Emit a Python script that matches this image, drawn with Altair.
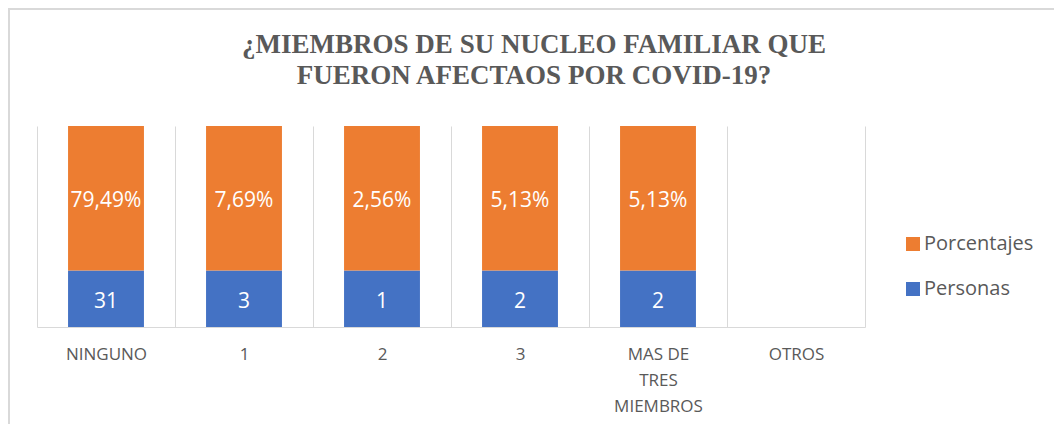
import altair as alt
import pandas as pd

categorias = ["NINGUNO", "1", "2", "3", "MAS DE TRES MIEMBROS", "OTROS"]
personas = [31, 3, 1, 2, 2, 0]
porcentajes = [79.49, 7.69, 2.56, 5.13, 5.13, 0]
series = ["Porcentajes", "Personas"]
colores = ["#ED7D31", "#4472C4"]
titulo = ["¿MIEMBROS DE SU NUCLEO FAMILIAR QUE", "FUERON AFECTAOS POR COVID-19?"]

rows = []
for c, p, q in zip(categorias, personas, porcentajes):
    rows.append({"cat": c, "serie": "Personas", "valor": p, "orden": 0,
                 "etiqueta": f"{p}"})
    rows.append({"cat": c, "serie": "Porcentajes", "valor": q, "orden": 1,
                 "etiqueta": f"{q:.2f}".replace(".", ",") + "%"})
df = pd.DataFrame(rows)

GRAY = "#D9D9D9"
TXT = "#595959"
W, H = 828, 201
PL, PT = 29, 118
TOTW, TOTH = 1046, 416

x_axis = alt.Axis(
    title=None, labelAngle=0, ticks=False, grid=True, tickBand="extent",
    gridColor=GRAY, gridWidth=1, domainColor=GRAY, domainWidth=1,
    labelFont="Open Sans", labelFontSize=17, labelColor=TXT,
    labelPadding=19, labelLineHeight=26,
    labelExpr="datum.value == 'MAS DE TRES MIEMBROS' ? ['MAS DE', 'TRES', 'MIEMBROS'] : datum.value",
)
x_scale = alt.Scale(domain=categorias, paddingInner=0, paddingOuter=0)
y_scale = alt.Scale(domain=[0, 1])

base = alt.Chart(df).transform_filter("datum.valor > 0").transform_stack(
    stack="valor", groupby=["cat"], as_=["y0", "y1"], offset="normalize",
    sort=[alt.SortField("orden", order="ascending")],
)

bars = base.mark_bar(width={"band": 0.55}).encode(
    x=alt.X("cat:N", scale=x_scale, axis=x_axis, sort=categorias),
    y=alt.Y("y0:Q", scale=y_scale, axis=None),
    y2="y1:Q",
    color=alt.Color(
        "serie:N",
        scale=alt.Scale(domain=series, range=colores),
        legend=alt.Legend(
            title=None, orient="none", legendX=866, legendY=108, padding=0,
            symbolType="square", symbolSize=196, symbolStrokeWidth=0,
            labelFont="Open Sans", labelFontSize=20, labelColor=TXT,
            labelOffset=1, rowPadding=25,
        ),
    ),
)

labels = base.transform_calculate(mid="(datum.y0 + datum.y1) / 2").mark_text(
    color="white", font="Open Sans", fontSize=21, dy=3
).encode(
    x=alt.X("cat:N", scale=x_scale, sort=categorias),
    y=alt.Y("mid:Q", scale=y_scale),
    text="etiqueta:N",
)

frame_df = pd.DataFrame({"k": [0]})
top_border = alt.Chart(frame_df).mark_rule(color=GRAY, strokeWidth=2).encode(
    x=alt.value(-PL), x2=alt.value(TOTW - PL), y=alt.value(-PT + 1)
)
left_border = alt.Chart(frame_df).mark_rule(color=GRAY, strokeWidth=2).encode(
    x=alt.value(-PL + 1), y=alt.value(-PT), y2=alt.value(TOTH - PT)
)
title_mark = alt.Chart(frame_df).mark_text(
    text=titulo, font="Liberation Serif", fontSize=27, fontWeight="bold",
    color=TXT, align="center", baseline="alphabetic", lineHeight=31,
).encode(x=alt.value(497), y=alt.value(-73))

chart = alt.layer(top_border, left_border, title_mark, bars, labels).properties(
    width=W, height=H,
    autosize=alt.AutoSizeParams(type="none"),
    padding={"left": PL, "top": PT, "right": TOTW - PL - W, "bottom": TOTH - PT - H},
).configure_view(stroke=None)

chart.save("out.html", embed_options={"renderer": "svg", "actions": False})
